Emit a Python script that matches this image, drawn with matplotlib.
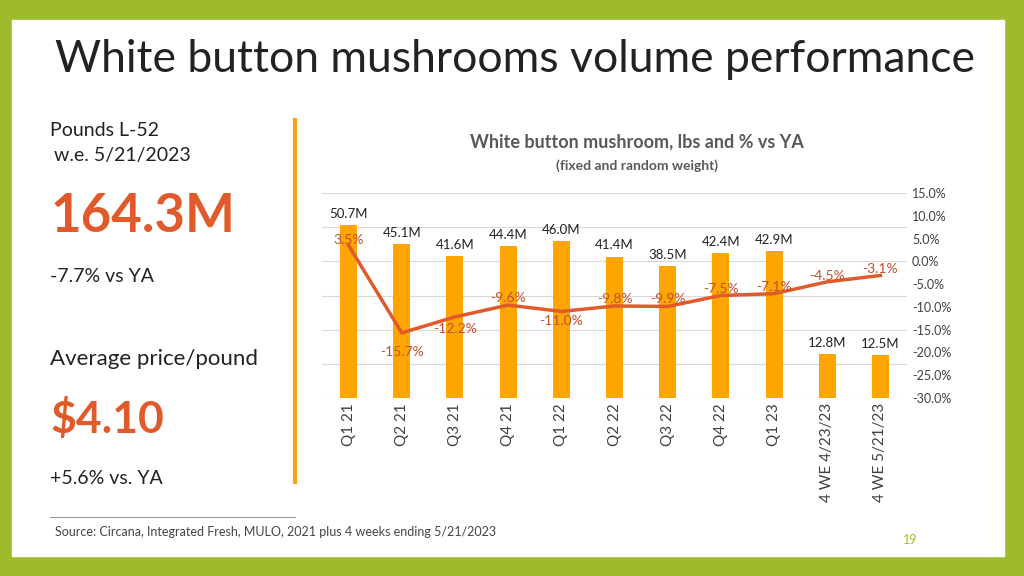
import matplotlib.pyplot as plt
from matplotlib.patches import Rectangle
from matplotlib.lines import Line2D

plt.rcParams["font.family"] = "Lato"

periods = ["Q1 21", "Q2 21", "Q3 21", "Q4 21", "Q1 22", "Q2 22", "Q3 22",
           "Q4 22", "Q1 23", "4 WE 4/23/23", "4 WE 5/21/23"]
lbs_m = [50.7, 45.1, 41.6, 44.4, 46.0, 41.4, 38.5, 42.4, 42.9, 12.8, 12.5]
pct_ya = [3.5, -15.7, -12.2, -9.6, -11.0, -9.8, -9.9, -7.5, -7.1, -4.5, -3.1]
right_ticks = [15, 10, 5, 0, -5, -10, -15, -20, -25, -30]

W, H = 1024, 576
fig = plt.figure(figsize=(10.24, 5.76), dpi=100)
fig.patch.set_facecolor("#9DBB2B")
fig.patches.append(Rectangle((12 / W, 20 / H), 992 / W, 536 / H,
                             transform=fig.transFigure, color="white", zorder=-10))

def ft(x, y, s, **kw):
    fig.text(x / W, 1 - y / H, s, **kw)

ft(55, 60, "White button mushrooms volume performance", fontsize=32, va="center", color="#222222")
ft(50, 130, "Pounds L-52", fontsize=14, va="center", color="#222222")
ft(54, 155, "w.e. 5/21/2023", fontsize=14, va="center", color="#222222")
ft(50, 217, "164.3M", fontsize=38, va="center", color="#E05A2B", fontweight="bold")
ft(50, 277, "-7.7% vs YA", fontsize=14, va="center", color="#222222")
ft(50, 359, "Average price/pound", fontsize=16, va="center", color="#222222")
ft(50, 419, "$4.10", fontsize=32, va="center", color="#E05A2B", fontweight="bold")
ft(50, 478, "+5.6% vs. YA", fontsize=14, va="center", color="#222222")
ft(55, 532, "Source: Circana, Integrated Fresh, MULO, 2021 plus 4 weeks ending 5/21/2023",
   fontsize=9, va="center", color="#444444")
ft(910, 540, "19", fontsize=9, va="center", ha="center", color="#9DBB2B")
ft(637, 142, "White button mushroom, lbs and % vs YA", fontsize=13, va="center", ha="center",
   color="#595959", fontweight="bold")
ft(637, 166, "(fixed and random weight)", fontsize=10, va="center", ha="center",
   color="#595959", fontweight="bold")
fig.lines.append(Line2D([295 / W, 295 / W], [1 - 120 / H, 1 - 482 / H],
                        transform=fig.transFigure, color="#F9A11B", lw=3))
fig.lines.append(Line2D([50 / W, 295 / W], [1 - 517 / H, 1 - 517 / H],
                        transform=fig.transFigure, color="#999999", lw=0.8))

ax = fig.add_axes([322 / W, 1 - 398 / H, 585 / W, 205 / H])
ax.patch.set_alpha(0)
x = range(len(periods))
ax.bar(x, lbs_m, width=0.32, color="#FFA500", zorder=2)
ax.set_ylim(0, 60)
ax.set_yticks(range(0, 61, 10))
ax.set_yticklabels([])
ax.tick_params(axis="y", length=0)
ax.grid(axis="y", color="#D9D9D9", lw=0.8, zorder=0)
ax.set_axisbelow(True)
ax.set_xlim(-0.5, len(periods) - 0.5)
ax.set_xticks(list(x))
ax.set_xticklabels(periods, rotation=90, fontsize=11, color="#404040")
ax.tick_params(axis="x", length=0)
for s in ax.spines.values():
    s.set_visible(False)
for i, v in enumerate(lbs_m):
    ax.text(i, v + 1.5, f"{v:.1f}M", ha="center", va="bottom", fontsize=9.5, color="#222222")

ax2 = ax.twinx()
ax2.plot(list(x), pct_ya, color="#E05A2B", lw=2.5, zorder=3)
ax2.set_ylim(-30, 15)
ax2.set_yticks(right_ticks)
ax2.set_yticklabels([f"{t:.1f}%" for t in right_ticks], fontsize=9, color="#404040")
ax2.tick_params(axis="y", length=0)
for s in ax2.spines.values():
    s.set_visible(False)
offsets = [4, -14, -9, 5, -7, 5, 5, 5, 5, 4, 5]
for i, (v, o) in enumerate(zip(pct_ya, offsets)):
    ax2.annotate(f"{v}%", (i, v), xytext=(0, o), textcoords="offset points",
                 ha="center", va="center", fontsize=10, color="#C0502B")

fig.savefig("out.png", dpi=100, facecolor=fig.get_facecolor())
